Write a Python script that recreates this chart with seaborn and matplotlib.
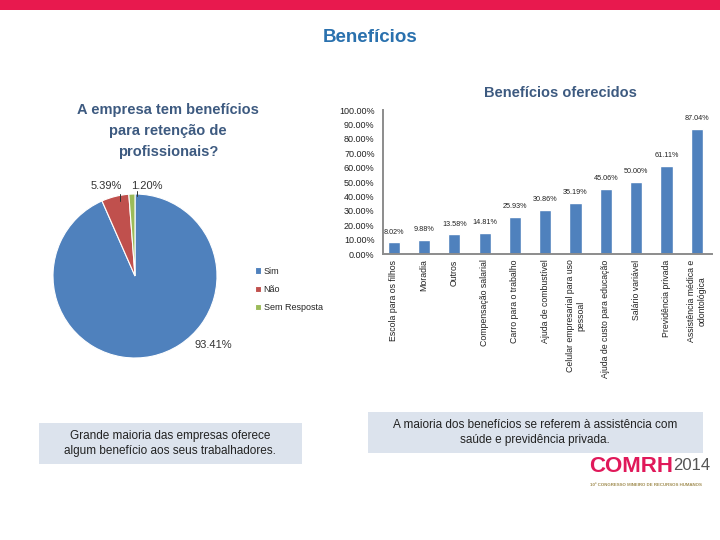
import numpy as np
import pandas as pd
import matplotlib
matplotlib.use("Agg")
import matplotlib.pyplot as plt
from matplotlib.patches import Rectangle
import seaborn as sns

# pie data
pie_labels = ["Sim", "Não", "Sem Resposta"]
pie_values = [93.41, 5.39, 1.20]
pie_colors = ["#4F81BD", "#C0504D", "#9BBB59"]

# bar data
bar_labels = [
    "Escola para os filhos",
    "Moradia",
    "Outros",
    "Compensação salarial",
    "Carro para o trabalho",
    "Ajuda de combustível",
    "Celular empresarial para uso\npessoal",
    "Ajuda de custo para educação",
    "Salário variável",
    "Previdência privada",
    "Assistência médica e\nodontológica",
]
bar_values = [8.02, 9.88, 13.58, 14.81, 25.93, 30.86, 35.19, 45.06, 50.00, 61.11, 87.04]
y_ticks = [0, 10, 20, 30, 40, 50, 60, 70, 80, 90, 100]

sns.set_style("white")
plt.rcParams["font.family"] = ["Liberation Sans", "DejaVu Sans"]

W, H = 720, 540
fig = plt.figure(figsize=(7.2, 5.4), dpi=100)


def fx(px):
    return px / W


def fy(py):
    return 1 - py / H


# top band
fig.add_artist(Rectangle((0, fy(10)), 1, 10 / H, transform=fig.transFigure,
                         color="#E8194E", lw=0))

fig.text(fx(370), fy(37), "Benefícios", ha="center", va="center",
         fontsize=13.5, fontweight="bold", color="#2A71AE")

title_col = "#3D5A80"
fig.text(fx(168), fy(131), "A empresa tem benefícios\npara retenção de\nprofissionais?",
         ha="center", va="center", fontsize=10.5, fontweight="bold",
         color=title_col, linespacing=1.6)

# pie
pcx, pcy, pr = 135, 276, 82
ax_pie = fig.add_axes([fx(pcx - pr), fy(pcy + pr), 2 * pr / W, 2 * pr / H])
wedges, _ = ax_pie.pie(pie_values, colors=pie_colors, startangle=90,
                       counterclock=False,
                       wedgeprops=dict(edgecolor="white", linewidth=0.8))
ax_pie.set_xlim(-1, 1)
ax_pie.set_ylim(-1, 1)
ax_pie.set_aspect("auto")
ax_pie.text(-0.35, 1.04, f"{pie_values[1]:.2f}%", ha="center", va="bottom",
            fontsize=8, color="#333333")
ax_pie.text(0.14, 1.04, f"{pie_values[2]:.2f}%", ha="center", va="bottom",
            fontsize=8, color="#333333")
ax_pie.plot([-0.18, -0.18], [0.92, 1.0], color="#333333", lw=0.7, clip_on=False)
ax_pie.plot([0.02, 0.02], [0.98, 1.04], color="#333333", lw=0.7, clip_on=False)
ax_pie.text(0.95, -0.84, f"{pie_values[0]:.2f}%", ha="center", va="center",
            fontsize=8, color="#333333")
ax_pie.legend(wedges, pie_labels, loc="upper left",
              bbox_to_anchor=(fx(250), fy(262)), bbox_transform=fig.transFigure,
              frameon=False, fontsize=6.5, handlelength=0.7, handleheight=0.7,
              handletextpad=0.3, labelspacing=1.05, borderpad=0)

# bars
ax = fig.add_axes([fx(383), fy(254), (712 - 383) / W, (254 - 110) / H])
df = pd.DataFrame({"beneficio": bar_labels, "valor": bar_values})
sns.barplot(data=df, x="beneficio", y="valor", color="#4F81BD", saturation=1,
            width=0.4, ax=ax)
ax.set_xlim(-0.35, len(bar_labels) - 0.6)
ax.set_ylim(0, 100)
ax.set_yticks(y_ticks)
ax.set_yticklabels([f"{v:.2f}%" for v in y_ticks], fontsize=6.5, color="#222222")
ax.set_xlabel("")
ax.set_ylabel("")
ax.tick_params(axis="x", labelrotation=90, labelsize=6.3, length=0,
               labelcolor="#222222", pad=4)
ax.set_xticks(np.arange(len(bar_labels)) + 0.5, minor=True)
ax.tick_params(axis="x", which="minor", length=3, color="#888888", direction="in")
ax.tick_params(axis="y", length=3, color="#888888", direction="out", pad=3)
for s in ["top", "right"]:
    ax.spines[s].set_visible(False)
for s in ["left", "bottom"]:
    ax.spines[s].set_color("#8C8C8C")
    ax.spines[s].set_linewidth(1.4)
for i, v in enumerate(bar_values):
    ax.annotate(f"{v:.2f}%", (i, v), xytext=(0, 5), textcoords="offset points",
                ha="center", va="bottom", fontsize=5.2, color="#222222")

fig.text(fx(560), fy(93), "Benefícios oferecidos", ha="center", va="center",
         fontsize=10.5, fontweight="bold", color=title_col)

# text boxes
box_col = "#DCE3ED"
fig.add_artist(Rectangle((fx(39), fy(464)), (302 - 39) / W, 41 / H,
                         transform=fig.transFigure, color=box_col, lw=0))
fig.text(fx(170), fy(443.5), "Grande maioria das empresas oferece\nalgum benefício aos seus trabalhadores.",
         ha="center", va="center", fontsize=8.5, color="#222222", linespacing=1.35)
fig.add_artist(Rectangle((fx(368), fy(453)), (703 - 368) / W, 41 / H,
                         transform=fig.transFigure, color=box_col, lw=0))
fig.text(fx(535), fy(432.5), "A maioria dos benefícios se referem à assistência com\nsaúde e previdência privada.",
         ha="center", va="center", fontsize=8.5, color="#222222", linespacing=1.35)

# logo
fig.text(fx(589), fy(467), "COMRH", ha="left", va="center", fontsize=16,
         fontweight="bold", color="#E0195A")
fig.text(fx(673), fy(466), "2014", ha="left", va="center", fontsize=12,
         color="#555555")
fig.text(fx(590), fy(485), "10º CONGRESSO MINEIRO DE RECURSOS HUMANOS", ha="left",
         va="center", fontsize=3.2, fontweight="bold", color="#A08C50")

fig.savefig("out.png", dpi=100)
